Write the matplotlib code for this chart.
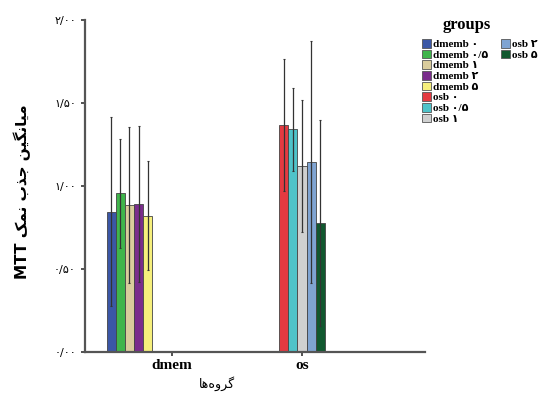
import matplotlib.pyplot as plt
import numpy as np
from matplotlib.patches import Patch

# data
categories = ["dmem", "os"]
group_labels = ["dmemb \u06f0", "dmemb \u06f0/\u06f5", "dmemb \u06f1", "dmemb \u06f2", "dmemb \u06f5",
                "osb \u06f0", "osb \u06f0/\u06f5", "osb \u06f1", "osb \u06f2", "osb \u06f5"]
dmem_means = [0.845, 0.956, 0.886, 0.890, 0.821]
dmem_errs = [0.57, 0.33, 0.47, 0.47, 0.33]
os_means = [1.367, 1.343, 1.120, 1.143, 0.779]
os_errs = [0.40, 0.25, 0.40, 0.73, 0.62]
ytick_values = [0.0, 0.5, 1.0, 1.5, 2.0]
ytick_labels = ["\u06f0/\u06f0\u06f0", "\u06f0/\u06f5\u06f0", "\u06f1/\u06f0\u06f0",
                "\u06f1/\u06f5\u06f0", "\u06f2/\u06f0\u06f0"]

colors = ['#3b57a6', '#3fb54b', '#d9cc9c', '#7a2c8c', '#f6ef7c',
          '#e43a41', '#4fc3c9', '#cfd0d0', '#7fa4d2', '#11582f']

# persian text written in visual order with presentation forms
ylab = "MTT \uFB8F\uFEE4\uFEE7 \uFE8F\uFEAC\uFE9F \uFEE6\uFBFF\uFB95\uFEE7\uFE8E\uFBFF\uFEE3"
xlab = "\uFE8E\uFEEB\uFEE9\uFEED\uFEAE\uFB94"

serif = ['Liberation Serif', 'DejaVu Sans']
persian = ['DejaVu Sans']

fig = plt.figure(figsize=(5.46, 3.98), dpi=100)
ax = fig.add_axes([85/546, 46/398, (425-85)/546, (352-20)/398])

w = 0.07
cat_x = np.arange(len(categories))
offsets = [-0.327, 0.0]
series = [(dmem_means, dmem_errs, colors[:5]), (os_means, os_errs, colors[5:])]
for ci, (means, errs, cols) in enumerate(series):
    xs = cat_x[ci] + offsets[ci] + (np.arange(len(means)) - 2) * w
    ax.bar(xs, means, width=w, color=cols, edgecolor='#444444', linewidth=0.6, zorder=2)
    ax.errorbar(xs, means, yerr=errs, fmt='none', ecolor='#333333',
                elinewidth=0.9, capsize=1, capthick=0.8, zorder=3)

ax.set_xlim((85-172)/130, (425-172)/130)
ax.set_ylim(0, 2.0)
ax.set_xticks(cat_x)
ax.set_xticklabels(categories, family=serif, fontweight='bold', fontsize=11)
ax.set_yticks(ytick_values)
ax.set_yticklabels(ytick_labels, family=persian, fontsize=8)
ax.tick_params(axis='both', length=3, width=1.2, color='#333333')
ax.tick_params(axis='x', pad=2)

for s in ['top', 'right']:
    ax.spines[s].set_visible(False)
for s in ['left', 'bottom']:
    ax.spines[s].set_color('#555555')
    ax.spines[s].set_linewidth(1.6)

fig.text(22/546, 1 - 192/398, ylab, rotation=90, ha='center', va='center',
         family=persian, fontsize=11, fontweight='bold')
fig.text(217/546, 1 - 384/398, xlab, ha='center', va='center', family=persian, fontsize=9)

handles = [Patch(facecolor=c, edgecolor='#555555', linewidth=0.6, label=l)
           for c, l in zip(colors, group_labels)]
fig.text(467/546, 1 - 25/398, "groups", ha='center', va='center',
         family=serif, fontweight='bold', fontsize=12)
leg_kw = dict(frameon=False, prop={'family': serif, 'weight': 'bold', 'size': 8},
              handlelength=0.8, handleheight=0.8, handletextpad=0.2,
              labelspacing=0.05, borderpad=0, borderaxespad=0)
leg1 = fig.legend(handles=handles[:8], loc='upper left',
                  bbox_to_anchor=(422/546, 1 - 39/398), **leg_kw)
leg2 = fig.legend(handles=handles[8:], loc='upper left',
                  bbox_to_anchor=(501/546, 1 - 39/398), **leg_kw)

plt.savefig('out.png', dpi=100)
